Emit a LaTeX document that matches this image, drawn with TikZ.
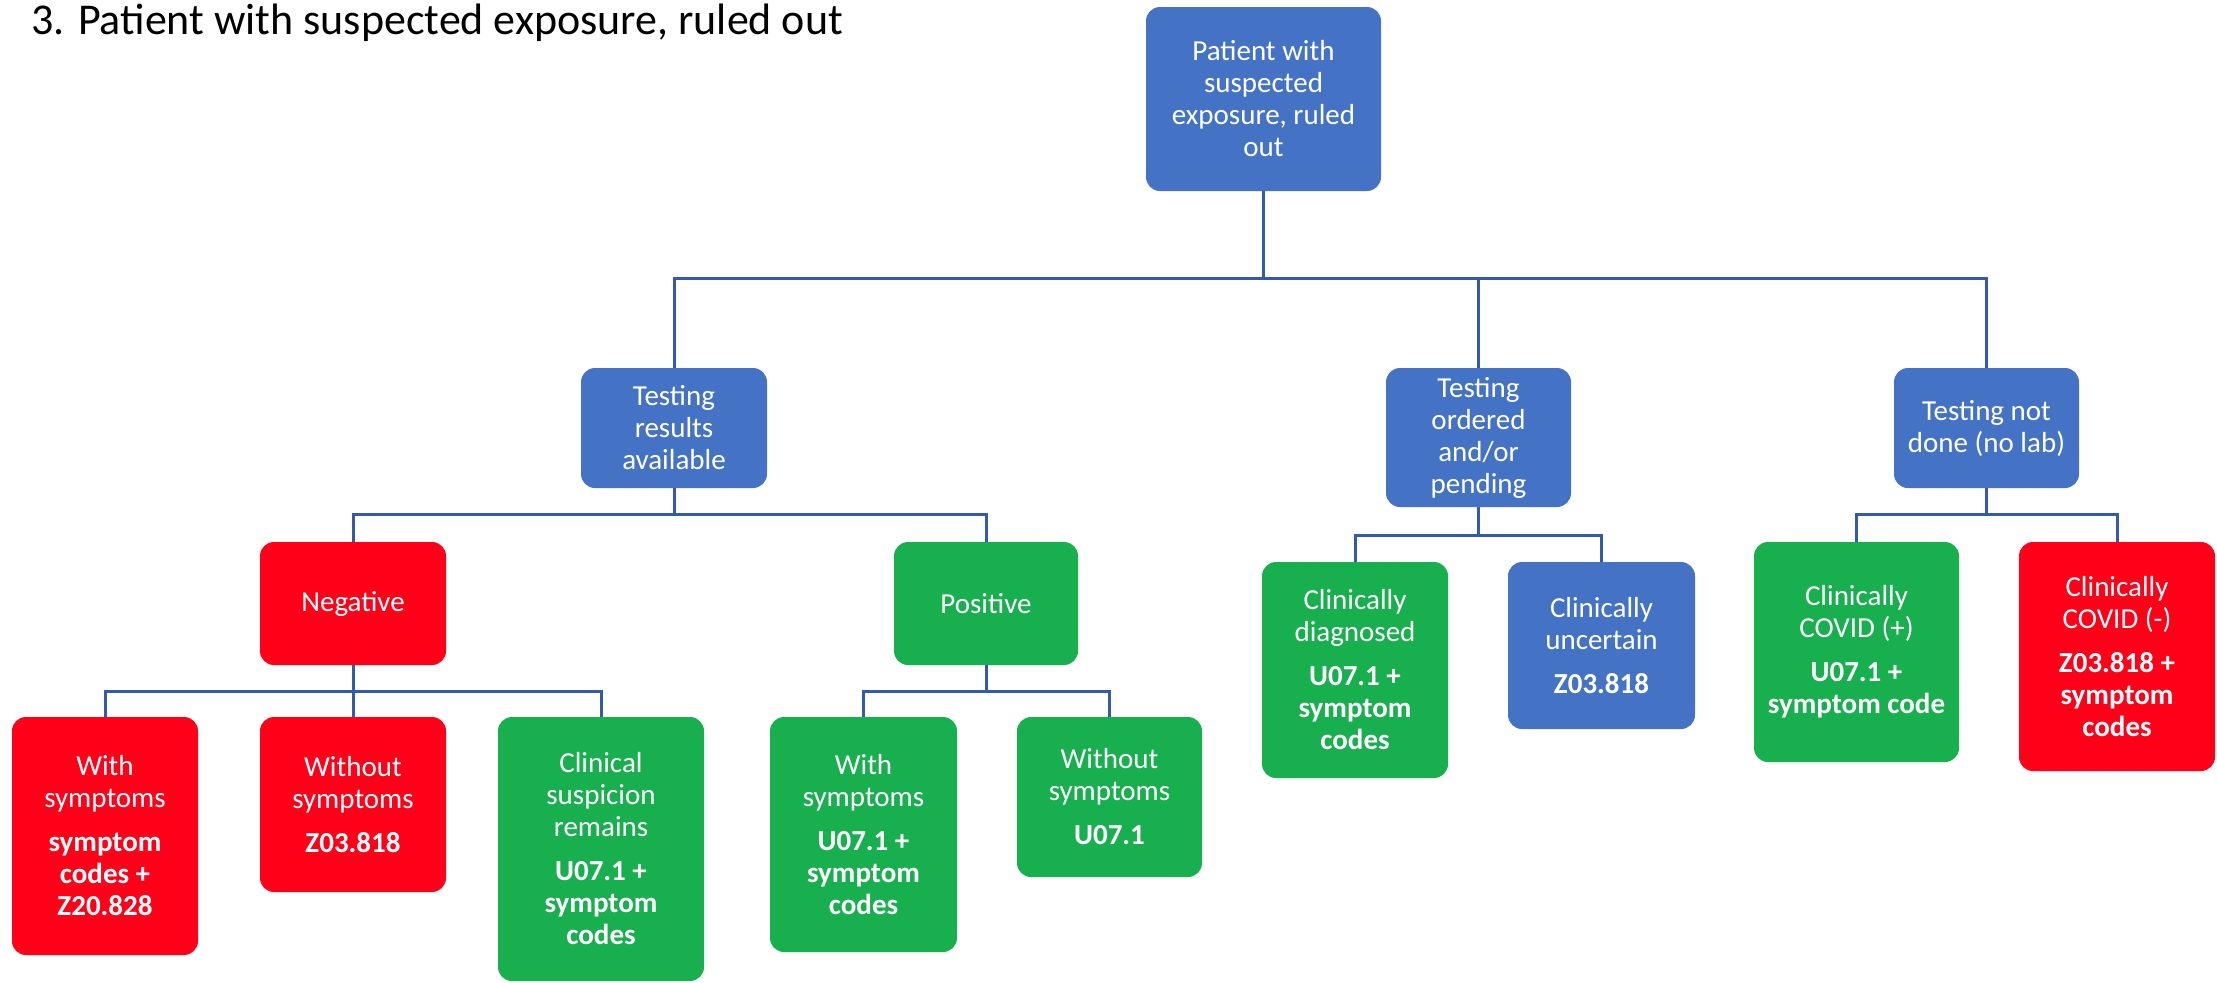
\documentclass[tikz,border=0pt]{standalone}
\usepackage{fontspec}
\setmainfont{Carlito}
\definecolor{boxblue}{RGB}{68,114,196}
\definecolor{boxred}{RGB}{255,0,24}
\definecolor{boxgreen}{RGB}{24,176,78}
\definecolor{linkblue}{RGB}{52,90,170}
\tikzset{
  chart/.style={rounded corners=7pt, text=white, align=center, inner sep=0pt,
    font=\fontsize{14.5}{16}\selectfont},
  bluebox/.style={chart, fill=boxblue},
  redbox/.style={chart, fill=boxred},
  greenbox/.style={chart, fill=boxgreen},
  link/.style={draw=linkblue, line width=1.5pt}
}
\begin{document}
\begin{tikzpicture}[x=0.5pt,y=-0.5pt]
\useasboundingbox (0,0) rectangle (2217,982);

\node[anchor=base west, inner sep=0pt, font=\fontsize{22}{26}\selectfont] (title) at (31,34)
  {3. Patient with suspected exposure, ruled out};

% top level
\node[bluebox, minimum width=0.5*235pt, minimum height=0.5*184pt] (root) at (1263.5,99)
  {Patient with\\suspected\\exposure, ruled\\out};

% second level
\node[bluebox, minimum width=0.5*186pt, minimum height=0.5*120pt] (tra) at (674,428)
  {Testing\\results\\available};
\node[bluebox, minimum width=0.5*185pt, minimum height=0.5*139pt] (tod) at (1478.5,437.5)
  {Testing\\ordered\\and/or\\pending};
\node[bluebox, minimum width=0.5*185pt, minimum height=0.5*120pt] (tnd) at (1986.5,428)
  {Testing not\\done (no lab)};

% results available
\node[redbox, minimum width=0.5*186pt, minimum height=0.5*123pt] (neg) at (353,603.5) {Negative};
\node[greenbox, minimum width=0.5*184pt, minimum height=0.5*123pt] (pos) at (986,603.5) {Positive};

\node[redbox, minimum width=0.5*186pt, minimum height=0.5*238pt] (nws) at (105,836)
  {With\\symptoms\\[6pt]\textbf{symptom}\\\textbf{codes +}\\\textbf{Z20.828}};
\node[redbox, minimum width=0.5*186pt, minimum height=0.5*175pt] (nwo) at (353,804.5)
  {Without\\symptoms\\[6pt]\textbf{Z03.818}};
\node[greenbox, minimum width=0.5*206pt, minimum height=0.5*264pt] (ncs) at (601,849)
  {Clinical\\suspicion\\remains\\[6pt]\textbf{U07.1 +}\\\textbf{symptom}\\\textbf{codes}};

\node[greenbox, minimum width=0.5*187pt, minimum height=0.5*235pt] (pws) at (863.5,834.5)
  {With\\symptoms\\[6pt]\textbf{U07.1 +}\\\textbf{symptom}\\\textbf{codes}};
\node[greenbox, minimum width=0.5*185pt, minimum height=0.5*160pt] (pwo) at (1109.5,797)
  {Without\\symptoms\\[6pt]\textbf{U07.1}};

% ordered / pending
\node[greenbox, minimum width=0.5*186pt, minimum height=0.5*216pt] (cdx) at (1355,670)
  {Clinically\\diagnosed\\[6pt]\textbf{U07.1 +}\\\textbf{symptom}\\\textbf{codes}};
\node[bluebox, minimum width=0.5*187pt, minimum height=0.5*167pt] (cun) at (1601.5,645.5)
  {Clinically\\uncertain\\[6pt]\textbf{Z03.818}};

% not done
\node[greenbox, minimum width=0.5*205pt, minimum height=0.5*220pt] (cpo) at (1856.5,652)
  {Clinically\\COVID (+)\\[6pt]\textbf{U07.1 +}\\\textbf{symptom code}};
\node[redbox, minimum width=0.5*196pt, minimum height=0.5*229pt] (cne) at (2117,656.5)
  {Clinically\\COVID (-)\\[6pt]\textbf{Z03.818 +}\\\textbf{symptom}\\\textbf{codes}};

% bus levels
\coordinate (bus1) at (0,278);
\coordinate (bustra) at (0,514);
\coordinate (busneg) at (0,691);
\coordinate (bustod) at (0,535);

% connectors
\foreach \c in {tra,tod,tnd}
  \draw[link] (root.south) -- (root.south |- bus1) -| (\c.north);
\foreach \c in {neg,pos}
  \draw[link] (tra.south) -- (tra.south |- bustra) -| (\c.north);
\foreach \c in {nws,nwo,ncs}
  \draw[link] (neg.south) -- (neg.south |- busneg) -| (\c.north);
\foreach \c in {pws,pwo}
  \draw[link] (pos.south) -- (pos.south |- busneg) -| (\c.north);
\foreach \c in {cdx,cun}
  \draw[link] (tod.south) -- (tod.south |- bustod) -| (\c.north);
\foreach \c in {cpo,cne}
  \draw[link] (tnd.south) -- (tnd.south |- bustra) -| (\c.north);
\end{tikzpicture}
\end{document}
